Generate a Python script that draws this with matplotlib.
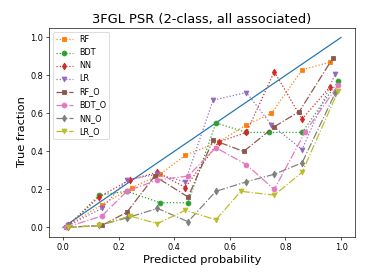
import matplotlib
matplotlib.use("Agg")
import matplotlib.pyplot as plt

# Data
rf_x = [0.02, 0.14, 0.25, 0.35, 0.44, 0.56, 0.66, 0.75, 0.86, 0.96]
rf_y = [0.01, 0.12, 0.21, 0.28, 0.38, 0.45, 0.54, 0.60, 0.83, 0.87]

bdt_x = [0.02, 0.13, 0.23, 0.35, 0.45, 0.55, 0.66, 0.74, 0.86, 0.99]
bdt_y = [0.01, 0.17, 0.19, 0.13, 0.13, 0.55, 0.50, 0.50, 0.50, 0.77]

nn_x = [0.02, 0.13, 0.24, 0.34, 0.44, 0.56, 0.66, 0.76, 0.86, 0.96]
nn_y = [0.01, 0.16, 0.25, 0.29, 0.21, 0.45, 0.50, 0.82, 0.57, 0.74]

lr_x = [0.02, 0.14, 0.23, 0.34, 0.44, 0.54, 0.66, 0.75, 0.86, 0.98]
lr_y = [0.01, 0.10, 0.25, 0.28, 0.24, 0.67, 0.71, 0.54, 0.41, 0.81]

rfo_x = [0.01, 0.14, 0.23, 0.33, 0.45, 0.54, 0.65, 0.76, 0.85, 0.97]
rfo_y = [0.00, 0.01, 0.08, 0.27, 0.16, 0.46, 0.40, 0.53, 0.61, 0.89]

bdto_x = [0.01, 0.14, 0.23, 0.34, 0.45, 0.55, 0.66, 0.76, 0.87, 0.99]
bdto_y = [0.00, 0.06, 0.19, 0.25, 0.27, 0.42, 0.33, 0.20, 0.50, 0.75]

nno_x = [0.02, 0.13, 0.23, 0.34, 0.45, 0.55, 0.66, 0.76, 0.86, 0.98]
nno_y = [0.00, 0.01, 0.05, 0.10, 0.03, 0.19, 0.24, 0.28, 0.34, 0.71]

lro_x = [0.02, 0.13, 0.24, 0.34, 0.44, 0.55, 0.64, 0.76, 0.86, 0.99]
lro_y = [0.00, 0.01, 0.06, 0.02, 0.09, 0.04, 0.19, 0.17, 0.29, 0.72]

diag = [0.0, 1.0]

series = [
    ("RF", rf_x, rf_y, "s", ":", "C1"),
    ("BDT", bdt_x, bdt_y, "o", ":", "C2"),
    ("NN", nn_x, nn_y, "d", ":", "C3"),
    ("LR", lr_x, lr_y, "v", ":", "C4"),
    ("RF_O", rfo_x, rfo_y, "s", "-.", "C5"),
    ("BDT_O", bdto_x, bdto_y, "o", "-.", "C6"),
    ("NN_O", nno_x, nno_y, "d", "-.", "C7"),
    ("LR_O", lro_x, lro_y, "v", "-.", "C8"),
]

dpi = 58.4
fig = plt.figure(figsize=(374 / dpi, 280 / dpi), dpi=dpi)
ax = fig.add_axes([0.131, 0.154, 0.818, 0.746])

ax.plot(diag, diag, color="C0", linewidth=1.5)
for name, xs, ys, mk, ls, col in series:
    ax.plot(xs, ys, marker=mk, linestyle=ls, color=col, label=name,
            markersize=6, linewidth=1.5)

ax.set_xlim(-0.05, 1.05)
ax.set_ylim(-0.05, 1.05)
ax.set_xticks([0.0, 0.2, 0.4, 0.6, 0.8, 1.0])
ax.set_yticks([0.0, 0.2, 0.4, 0.6, 0.8, 1.0])
ax.tick_params(labelsize=10)
ax.set_xlabel("Predicted probability", fontsize=14)
ax.set_ylabel("True fraction", fontsize=14)
ax.set_title("3FGL PSR (2-class, all associated)", fontsize=16)
ax.legend(loc="upper left", fontsize=10)

fig.savefig("out.png", dpi=dpi)
